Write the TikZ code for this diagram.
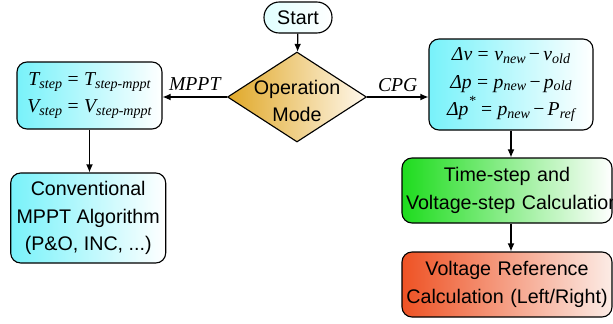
\documentclass[tikz,border=0pt]{standalone}
\usepackage{fontspec}
\setmainfont{Liberation Sans}
\newfontfamily\tms{Liberation Serif}
\usepackage{xcolor}
\usepackage{tikz}
\usetikzlibrary{shapes.geometric, arrows.meta}

\definecolor{boxcyan}{RGB}{120,242,250}
\definecolor{modegold}{RGB}{224,168,40}
\definecolor{modelight}{RGB}{255,248,236}
\definecolor{stepgreen}{RGB}{30,220,30}
\definecolor{refred}{RGB}{238,82,36}
\definecolor{refpale}{RGB}{252,236,230}

\newcommand{\vsub}[1]{\raisebox{-0.3ex}{\fontsize{10}{10}\selectfont #1}}
\newcommand{\vsup}[1]{\raisebox{1.1ex}{\fontsize{10}{10}\selectfont #1}}
\newcommand{\eq}{\;{\upshape =}\;}
\newcommand{\mn}{\,{\upshape −}\,}

\begin{document}
\begin{tikzpicture}[>={Latex[length=2mm,width=1.7mm]}, line width=0.8pt,
    font=\fontsize{14}{19.5}\selectfont,
    every node/.style={align=center, inner sep=0pt},
    startbox/.style={draw, rounded corners=0.38cm, left color=cyan!12, right color=white, minimum width=1.7cm, minimum height=0.775cm},
    decision/.style={draw, diamond, left color=modegold, right color=modelight, minimum width=3.475cm, minimum height=2.25cm},
    calcbox/.style={draw, rounded corners=0.25cm, left color=boxcyan, right color=white},
    greenbox/.style={draw, rounded corners=0.25cm, left color=stepgreen, right color=white, inner xsep=0.1cm, text width=5.05cm, minimum height=1.625cm},
    redbox/.style={draw, rounded corners=0.25cm, left color=refred, right color=refpale, inner xsep=0.1cm, text width=5.05cm, minimum height=1.625cm},
    eqn/.style={font=\fontsize{14}{19.5}\selectfont\tms\itshape}]
  \useasboundingbox (0,0) rectangle (15.325,-8.075);

  \node (start) [startbox] at (7.45,-0.4375) {Start};
  \node (mode) [decision] at (7.425,-2.425) {};
  \node (modetext) [yshift=-0.1cm] at (mode.center) {Operation\\Mode};

  \node (mpptstep) [calcbox, eqn, minimum width=3.625cm, minimum height=1.675cm] at (2.2375,-2.3875)
    {T\vsub{step}\eq T\vsub{step-mppt}\\ V\vsub{step}\eq V\vsub{step-mppt}};
  \node (convalg) [calcbox, minimum width=3.875cm, minimum height=2.25cm] at (2.205,-5.45)
    {Conventional\\MPPT Algorithm\\(P\&O, INC, ...)};

  \node (deltas) [calcbox, eqn, minimum width=4.1cm, minimum height=2.275cm] at (12.775,-2.1125)
    {Δv\eq v\vsub{new}\mn v\vsub{old}\\ Δp\eq p\vsub{new}\mn p\vsub{old}\\ Δp\vsup{*}\eq p\vsub{new}\mn P\vsub{ref}};
  \node (tstep) [greenbox] at (12.675,-4.7625) {\mbox{Time-step and}\\\mbox{Voltage-step Calculation}};
  \node (vref) [redbox] at (12.675,-7.1125) {\mbox{Voltage Reference}\\\mbox{Calculation (Left/Right)}};

  \draw[->] (start) -- (mode);
  \draw[->] (mode.west) -- (mode.west -| mpptstep.east) node[midway, above=0.15cm, eqn] {MPPT};
  \draw[->] (mode.east) -- (mode.east -| deltas.west) node[midway, above=0.13cm, eqn] {CPG};
  \draw[->] (mpptstep.south) -- (mpptstep.south |- convalg.north);
  \draw[->] (deltas.south) -- (deltas.south |- tstep.north);
  \draw[->] (deltas.south |- tstep.south) -- (deltas.south |- vref.north);
\end{tikzpicture}
\end{document}
